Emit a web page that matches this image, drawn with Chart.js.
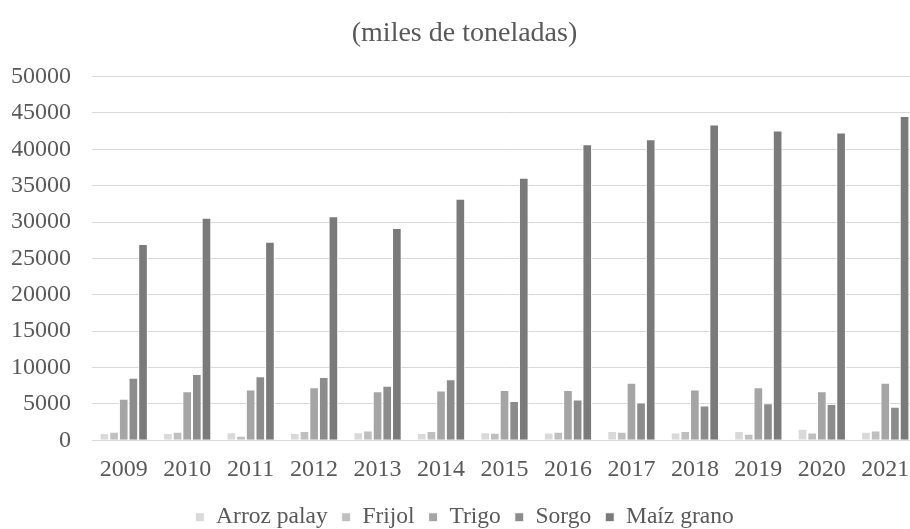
<!DOCTYPE html>
<html lang="es">
<head>
<meta charset="UTF-8">
<title>Producción de granos</title>
<script src="https://cdn.jsdelivr.net/npm/chart.js"></script>
<style>
    body { margin: 0; overflow: hidden; background: #fff; }
    .wrap { position: absolute; left: 0; top: 0; width: 918px; height: 529px; }
</style>
</head>
<body>
<div class="wrap"><canvas id="chart"></canvas></div>
<script>
    // values (miles de toneladas)
    const years = ['2009', '2010', '2011', '2012', '2013', '2014', '2015', '2016', '2017', '2018', '2019', '2020', '2021'];
    const arroz = [1000, 1000, 1100, 1000, 1100, 1000, 1100, 1070, 1270, 1070, 1270, 1600, 1180];
    const frijol = [1180, 1180, 630, 1270, 1360, 1270, 1050, 1180, 1180, 1270, 900, 1070, 1360];
    const trigo = [5700, 6750, 7000, 7300, 6750, 6830, 6900, 6900, 7900, 7000, 7300, 6750, 7900];
    const sorgo = [8600, 9100, 8800, 8700, 7500, 8400, 5400, 5600, 5200, 4800, 5100, 5000, 4600];
    const maiz = [27000, 30600, 27300, 30800, 29200, 33200, 36100, 40700, 41400, 43400, 42600, 42300, 44600];

    const textColor = '#595959';
    const gridColor = '#d9d9d9';
    const family = '"Liberation Serif", "Times New Roman", serif';

    function series(label, data, color) {
        return { label: label, data: data, backgroundColor: color, borderColor: '#ffffff', borderWidth: 1 };
    }

    new Chart(document.getElementById('chart'), {
        type: 'bar',
        data: {
            labels: years,
            datasets: [
                series('Arroz palay', arroz, '#d9d9d9'),
                series('Frijol', frijol, '#bfbfbf'),
                series('Trigo', trigo, '#a5a5a5'),
                series('Sorgo', sorgo, '#8c8c8c'),
                series('Maíz grano', maiz, '#7a7a7a')
            ]
        },
        options: {
            responsive: true,
            maintainAspectRatio: false,
            animation: false,
            categoryPercentage: 0.76,
            barPercentage: 1,
            layout: { padding: { left: 12, right: 1, top: 0, bottom: -10 } },
            plugins: {
                title: {
                    display: true,
                    text: '(miles de toneladas)',
                    color: textColor,
                    font: { family: family, size: 28, weight: 'normal' },
                    padding: { top: 17, bottom: 26 }
                },
                legend: {
                    position: 'bottom',
                    labels: {
                        color: textColor,
                        font: { family: family, size: 23.5 },
                        boxWidth: 9,
                        boxHeight: 9,
                        padding: 14
                    }
                },
                tooltip: { enabled: false }
            },
            scales: {
                x: {
                    grid: { display: false },
                    border: { color: gridColor, width: 1 },
                    ticks: { color: textColor, font: { family: family, size: 24, lineHeight: 1.3 }, padding: 6 }
                },
                y: {
                    min: 0,
                    max: 50000,
                    grid: { color: gridColor, lineWidth: 1, drawTicks: false },
                    border: { display: false },
                    afterFit: scale => { scale.width -= 22; },
                    ticks: {
                        stepSize: 5000,
                        color: textColor,
                        font: { family: family, size: 24 },
                        padding: 21,
                        callback: v => String(v)
                    }
                }
            }
        }
    });
</script>
</body>
</html>
